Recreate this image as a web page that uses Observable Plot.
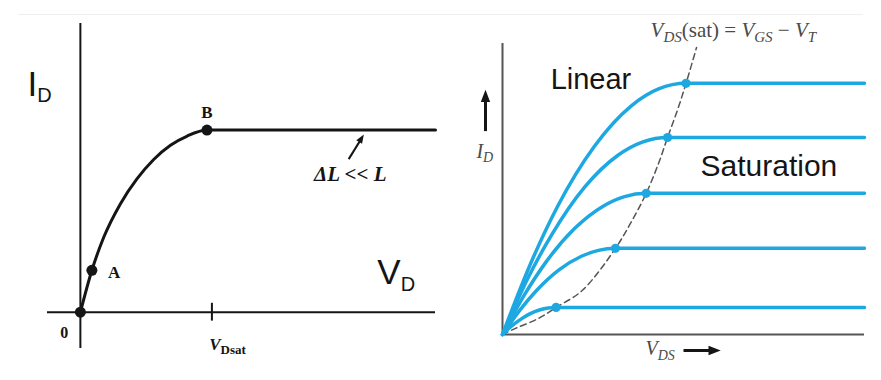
<!DOCTYPE html>
<html>
<head>
<meta charset="utf-8">
<script src="https://cdn.jsdelivr.net/npm/d3@7"></script>
<script src="https://cdn.jsdelivr.net/npm/@observablehq/plot@0.6"></script>
<style>
html, body { margin: 0; padding: 0; background: #fff; }
#wrap { position: relative; width: 881px; height: 380px; overflow: hidden; background: #fff; }
#left, #right { position: absolute; top: 0; }
#left { left: 0; }
#right { left: 440px; }
#topline { position: absolute; left: 18px; top: 14px; width: 845px; height: 1px; background: #efefef; }
</style>
</head>
<body>
<div id="wrap"><div id="topline"></div><div id="left"></div><div id="right"></div></div>
<script>
// ================= LEFT PANEL DATA (I_D vs V_D, single curve) =================
const leftVD = [0, 0.35, 0.71, 1.22, 1.72, 2.23, 2.74, 3.25, 3.85, 10.8];
const leftID = [0, 1.27, 2.27, 3.29, 4.04, 4.63, 5.06, 5.34, 5.52, 5.52];
const leftMarkVD = [0, 0.35, 3.85];      // origin, A, B
const leftMarkID = [0, 1.27, 5.52];
const leftAxisVD = [-1, 10.8];
const leftAxisID = [-1.1, 8.75];
const vdsatTick = [4.0];
const vdsatTickID = [-0.27, 0.27];
// annotation anchors (data units)
const ptLabels = ["A", "B"];
const ptLabelVD = [1.03, 3.85];
const ptLabelID = [1.2, 6.05];
const zeroLabel = ["0"];
const dlArrowVD = [8.16, 8.49];   // tail, head-base
const dlArrowID = [4.64, 5.17];
const dlHead = [8.55, 5.27];

// ================= RIGHT PANEL DATA (family of curves) =================
const curveVDS = [
  [0, 0.76, 1.52, 2.54, 3.55, 4.31, 5.07, 10],
  [0, 0.68, 1.37, 2.28, 3.19, 3.88, 4.56, 10],
  [0, 0.60, 1.19, 1.99, 2.78, 3.37, 3.97, 10],
  [0, 0.47, 0.94, 1.56, 2.18, 2.65, 3.12, 10],
  [0, 0.22, 0.44, 0.74, 1.04, 1.26, 1.48, 10]
];
const curveID = [
  [0, 2.39, 4.40, 6.47, 7.85, 8.44, 8.63, 8.63],
  [0, 1.88, 3.45, 5.08, 6.16, 6.62, 6.77, 6.77],
  [0, 1.35, 2.47, 3.64, 4.41, 4.74, 4.85, 4.85],
  [0, 0.82, 1.51, 2.22, 2.69, 2.89, 2.96, 2.96],
  [0, 0.26, 0.47, 0.70, 0.85, 0.91, 0.93, 0.93]
];
const satVDS = [5.07, 4.56, 3.97, 3.12, 1.48];
const satID = [8.63, 6.77, 4.85, 2.96, 0.93];
const dashVDS = [0, 0.36, 0.99, 1.48, 2.20, 3.12, 3.58, 3.97, 4.31, 4.56, 4.83, 5.07, 5.36];
const dashID = [0, 0.21, 0.55, 0.93, 1.51, 2.96, 3.92, 4.85, 5.88, 6.77, 7.70, 8.63, 9.86];
const rightAxis = [0, 10];

const SERIF = '"Liberation Serif", "DejaVu Serif", serif';
const SANS = '"Liberation Sans", Arial, sans-serif';
const BLUE = "#1ea8e2";
const INK = "#151515";
const GREY = "#4a4a4a";

// filled, slightly narrow arrowhead symbol pointing up
const headSymbol = {
  draw(ctx, size) {
    const r = Math.sqrt(size / Math.PI);
    const h = 2.6 * r, w = 2.0 * r;
    ctx.moveTo(0, -h / 2);
    ctx.lineTo(w / 2, h / 2);
    ctx.lineTo(-w / 2, h / 2);
    ctx.closePath();
  }
};

// turn a plain text into tspans with subscripts
function rich(svg, plain, parts) {
  svg.querySelectorAll("text").forEach(t => {
    if (t.textContent !== plain) return;
    t.textContent = "";
    let shift = 0;
    for (const p of parts) {
      const ts = document.createElementNS("http://www.w3.org/2000/svg", "tspan");
      ts.textContent = p.t;
      const target = p.sub || 0;
      if (target !== shift) { ts.setAttribute("dy", target - shift); shift = target; }
      if (p.size) ts.setAttribute("font-size", p.size);
      if (p.italic !== undefined) ts.setAttribute("font-style", p.italic ? "italic" : "normal");
      if (p.bold !== undefined) ts.setAttribute("font-weight", p.bold ? "bold" : "normal");
      t.appendChild(ts);
    }
  });
}

// ---------------- left plot ----------------
const leftRows = leftVD.map((v, i) => ({vd: v, id: leftID[i]}));
const leftMarks = leftMarkVD.map((v, i) => ({vd: v, id: leftMarkID[i]}));
const ptRows = ptLabels.map((s, i) => ({s, vd: ptLabelVD[i], id: ptLabelID[i]}));

const left = Plot.plot({
  width: 440, height: 380, margin: 0,
  style: {fontFamily: SERIF, background: "transparent", overflow: "visible"},
  x: {domain: leftAxisVD, range: [47, 435], axis: null},
  y: {domain: leftAxisID, range: [348, 23], axis: null},
  marks: [
    Plot.ruleY([0], {x1: leftAxisVD[0], x2: leftAxisVD[1], stroke: INK, strokeWidth: 2}),
    Plot.ruleX([0], {y1: leftAxisID[0], y2: leftAxisID[1], stroke: INK, strokeWidth: 2}),
    Plot.ruleX(vdsatTick, {y1: vdsatTickID[0], y2: vdsatTickID[1], stroke: INK, strokeWidth: 2}),
    Plot.line(leftRows, {x: "vd", y: "id", curve: "monotone-x", stroke: INK, strokeWidth: 3}),
    Plot.dot(leftMarks, {x: "vd", y: "id", r: 5.5, fill: INK}),
    Plot.link([0], {x1: dlArrowVD[0], y1: dlArrowID[0], x2: dlArrowVD[1], y2: dlArrowID[1], stroke: INK, strokeWidth: 2}),
    Plot.dot([0], {x: dlHead[0], y: dlHead[1], symbol: headSymbol, r: 3.4, rotate: 32, fill: INK}),
    Plot.text(ptRows, {x: "vd", y: "id", text: "s", fontSize: 17, fontWeight: "bold", fill: INK}),
    Plot.text(zeroLabel, {x: -0.49, y: -0.62, fontSize: 16, fontWeight: "bold", fill: INK}),
    Plot.text(["ΔL << L"], {x: 8.21, y: 3.98, lineAnchor: "bottom", fontSize: 21, fontStyle: "italic", fontWeight: "bold", fill: INK}),
    Plot.text(["VDsat"], {x: 3.92, y: -1.14, textAnchor: "start", lineAnchor: "bottom", fontSize: 17, fontWeight: "bold", fill: INK}),
    Plot.text(["ID"], {x: -1.61, y: 6.56, textAnchor: "start", lineAnchor: "bottom", fontSize: 35, fontFamily: SANS, fill: INK}),
    Plot.text(["VD"], {x: 9.03, y: 0.86, textAnchor: "start", lineAnchor: "bottom", fontSize: 35, fontFamily: SANS, fill: INK})
  ]
});
rich(left, "ID", [{t: "I"}, {t: "D", sub: 6, size: 20}]);
rich(left, "VD", [{t: "V"}, {t: "D", sub: 7, size: 20}]);
rich(left, "VDsat", [{t: "V", italic: true}, {t: "Dsat", sub: 4, size: 13, italic: false}]);
document.getElementById("left").appendChild(left);

// ---------------- right plot ----------------
const curveRows = curveVDS.flatMap((xs, k) => xs.map((v, i) => ({k, vds: v, id: curveID[k][i]})));
const satRows = satVDS.map((v, i) => ({vds: v, id: satID[i]}));
const dashRows = dashVDS.map((v, i) => ({vds: v, id: dashID[i]}));

const right = Plot.plot({
  width: 441, height: 380, margin: 0,
  style: {fontFamily: SERIF, background: "transparent", overflow: "visible"},
  x: {domain: rightAxis, range: [62, 424], axis: null},
  y: {domain: rightAxis, range: [334, 43], axis: null},
  marks: [
    Plot.ruleY([0], {x1: rightAxis[0], x2: rightAxis[1], stroke: "#555", strokeWidth: 2}),
    Plot.ruleX([0], {y1: rightAxis[0], y2: rightAxis[1], stroke: "#555", strokeWidth: 2}),
    Plot.line(dashRows, {x: "vds", y: "id", curve: "catmull-rom", stroke: "#555", strokeWidth: 1.5, strokeDasharray: "6,4"}),
    Plot.line(curveRows, {x: "vds", y: "id", z: "k", curve: "monotone-x", stroke: BLUE, strokeWidth: 3.5}),
    Plot.dot(satRows, {x: "vds", y: "id", r: 4.6, fill: BLUE}),
    Plot.text(["Linear"], {x: 1.33, y: 8.45, textAnchor: "start", lineAnchor: "bottom", fontSize: 29, fontFamily: SANS, fill: INK}),
    Plot.text(["Saturation"], {x: 5.47, y: 5.43, textAnchor: "start", lineAnchor: "bottom", fontSize: 30, fontFamily: SANS, fill: INK}),
    Plot.text(["VDS(sat) = VGS − VT"], {x: 4.09, y: 10.24, textAnchor: "start", lineAnchor: "bottom", fontSize: 21, fill: GREY}),
    Plot.text(["ID"], {x: -0.72, y: 6.08, textAnchor: "start", lineAnchor: "bottom", fontSize: 20, fontStyle: "italic", fill: GREY}),
    Plot.text(["VDS"], {x: 3.95, y: -0.72, textAnchor: "start", lineAnchor: "bottom", fontSize: 20, fontStyle: "italic", fill: GREY}),
    Plot.link([0], {x1: -0.47, y1: 6.99, x2: -0.47, y2: 8.05, stroke: INK, strokeWidth: 3}),
    Plot.dot([0], {x: -0.47, y: 8.2, symbol: headSymbol, r: 4.7, fill: INK}),
    Plot.link([0], {x1: 5.0, y1: -0.55, x2: 5.78, y2: -0.55, stroke: INK, strokeWidth: 3}),
    Plot.dot([0], {x: 5.86, y: -0.55, symbol: headSymbol, r: 4.7, rotate: 90, fill: INK})
  ]
});
rich(right, "VDS(sat) = VGS − VT", [
  {t: "V", italic: true}, {t: "DS", sub: 5, size: 15, italic: true},
  {t: "(sat) = ", italic: false}, {t: "V", italic: true},
  {t: "GS", sub: 5, size: 15, italic: true}, {t: " − ", italic: false},
  {t: "V", italic: true}, {t: "T", sub: 5, size: 15, italic: true}
]);
rich(right, "ID", [{t: "I"}, {t: "D", sub: 4, size: 14}]);
rich(right, "VDS", [{t: "V"}, {t: "DS", sub: 5, size: 14}]);
document.getElementById("right").appendChild(right);
</script>
</body>
</html>
